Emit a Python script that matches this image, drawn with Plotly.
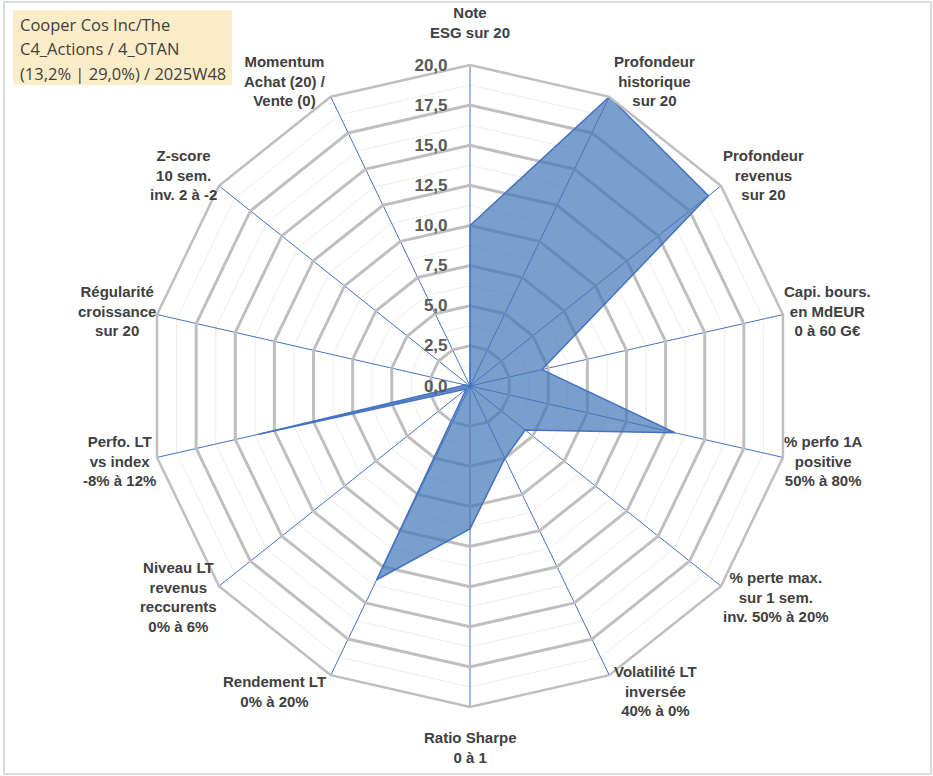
import math
import plotly.graph_objects as go

# ---- data ----
categories = [
    "Note<br>ESG sur 20",
    "Profondeur<br>historique<br>sur 20",
    "Profondeur<br>revenus<br>sur 20",
    "Capi. bours.<br>en MdEUR<br>0 à 60 G€",
    "% perfo 1A<br>positive<br>50% à 80%",
    "% perte max.<br>sur 1 sem.<br>inv. 50% à 20%",
    "Volatilité LT<br>inversée<br>40% à 0%",
    "Ratio Sharpe<br>0 à 1",
    "Rendement LT<br>0% à 20%",
    "Niveau LT<br>revenus<br>reccurents<br>0% à 6%",
    "Perfo. LT<br>vs index<br>-8% à 12%",
    "Régularité<br>croissance<br>sur 20",
    "Z-score<br>10 sem.<br>inv. 2 à -2",
    "Momentum<br>Achat (20) /<br>Vente (0)",
]
values = [10.0, 20.0, 19.0, 4.6, 13.1, 4.4, 5.0, 8.9, 13.4, 0.3, 13.5, 0.3, 0.0, 0.0]
major_ticks = [0, 2.5, 5, 7.5, 10, 12.5, 15, 17.5, 20]
minor_ticks = [1.25, 3.75, 6.25, 8.75, 11.25, 13.75, 16.25, 18.75]
title_lines = ["Cooper Cos Inc/The", "C4_Actions / 4_OTAN", "(13,2% | 29,0%) / 2025W48"]

W, H = 933, 776
cx, cy, R = 470, 386, 321          # centre / radius in pixels
LRX, LRY = 314, 328                # label anchor radii (horizontal / vertical)

keys = [f"c{i}" for i in range(len(categories))]

fig = go.Figure()

# minor-grid polar (underneath)
fig.add_trace(go.Scatterpolar(r=[0] * len(keys), theta=keys, mode="none",
                              showlegend=False, hoverinfo="skip", subplot="polar"))
# data polar
fig.add_trace(go.Scatterpolar(
    r=values + [values[0]], theta=keys + [keys[0]],
    mode="lines", fill="toself",
    line=dict(color="#4472C4", width=1.5),
    fillcolor="rgba(66,118,184,0.70)",
    showlegend=False, subplot="polar2"))

dom = dict(x=[(cx - R) / W, (cx + R) / W], y=[(H - cy - R) / H, (H - cy + R) / H])

common_ang = dict(type="category", categoryarray=keys, direction="clockwise",
                  rotation=90, showticklabels=False, ticks="")

fig.update_layout(
    width=W, height=H,
    margin=dict(l=0, r=0, t=0, b=0),
    paper_bgcolor="white",
    separators=", ",
    polar=dict(
        domain=dom, gridshape="linear", bgcolor="white",
        radialaxis=dict(range=[0, 20], tickvals=minor_ticks, showticklabels=False,
                        ticks="", showline=False, gridcolor="#EDEDED", gridwidth=1),
        angularaxis=dict(**common_ang, showgrid=False, showline=False),
    ),
    polar2=dict(
        domain=dom, gridshape="linear", bgcolor="rgba(0,0,0,0)",
        radialaxis=dict(range=[0, 20], tickvals=major_ticks, tickformat=".1f",
                        angle=90, tickangle=90, side="counterclockwise",
                        showline=False, ticks="outside", ticklen=16,
                        tickcolor="rgba(0,0,0,0)",
                        gridcolor="#BFBFBF", gridwidth=2.5,
                        tickfont=dict(family="Liberation Sans, Arial", size=17,
                                      color="#595959", weight="bold")),
        angularaxis=dict(**common_ang, showgrid=True, gridcolor="#4472C4", gridwidth=1.3,
                         showline=True, linecolor="#BFBFBF", linewidth=2.5),
    ),
)

# category labels beside each spoke tip (Excel-like placement)
n = len(categories)
for i, lab in enumerate(categories):
    phi = math.radians(i * 360 / n)
    s, c = math.sin(phi), math.cos(phi)
    tx = cx + LRX * s
    ty = cy - LRY * c                     # screen y of the label anchor
    if abs(s) < 0.05:
        xa = "center"
        px = tx
        if c > 0:
            ya, py = "bottom", ty - 15
        else:
            ya, py = "top", ty + 13
    else:
        xa = "left" if s > 0 else "right"
        px = tx + (6 if s > 0 else -6)
        ya = "middle"
        py = ty - 11 * c
    fig.add_annotation(x=px / W, y=1 - py / H, xref="paper", yref="paper",
                       text=lab, showarrow=False, xanchor=xa, yanchor=ya,
                       align="center",
                       font=dict(family="Liberation Sans, Arial", size=15,
                                 color="#404040", weight="bold"))

# title box
fig.add_shape(type="rect", xref="paper", yref="paper",
              x0=13 / W, x1=232 / W, y0=1 - 85 / H, y1=1 - 10 / H,
              fillcolor="#FDECC8", line=dict(width=0), layer="below")
for k, line in enumerate(title_lines):
    fig.add_annotation(x=18 / W, y=1 - (24 + 24.5 * k) / H, xref="paper", yref="paper",
                       xanchor="left", yanchor="middle", align="left",
                       text=line, showarrow=False,
                       font=dict(family="Open Sans, Noto Sans", size=16.5, color="#404040"))

# outer frame
fig.add_shape(type="rect", xref="paper", yref="paper",
              x0=4 / W, y0=2 / H, x1=1 - 2 / W, y1=1 - 2 / H,
              line=dict(color="#D0D0D0", width=1.5))

fig.write_html("out.html", config={"displayModeBar": False},
               post_script="document.body.style.margin='0';document.body.style.overflow='hidden';")
